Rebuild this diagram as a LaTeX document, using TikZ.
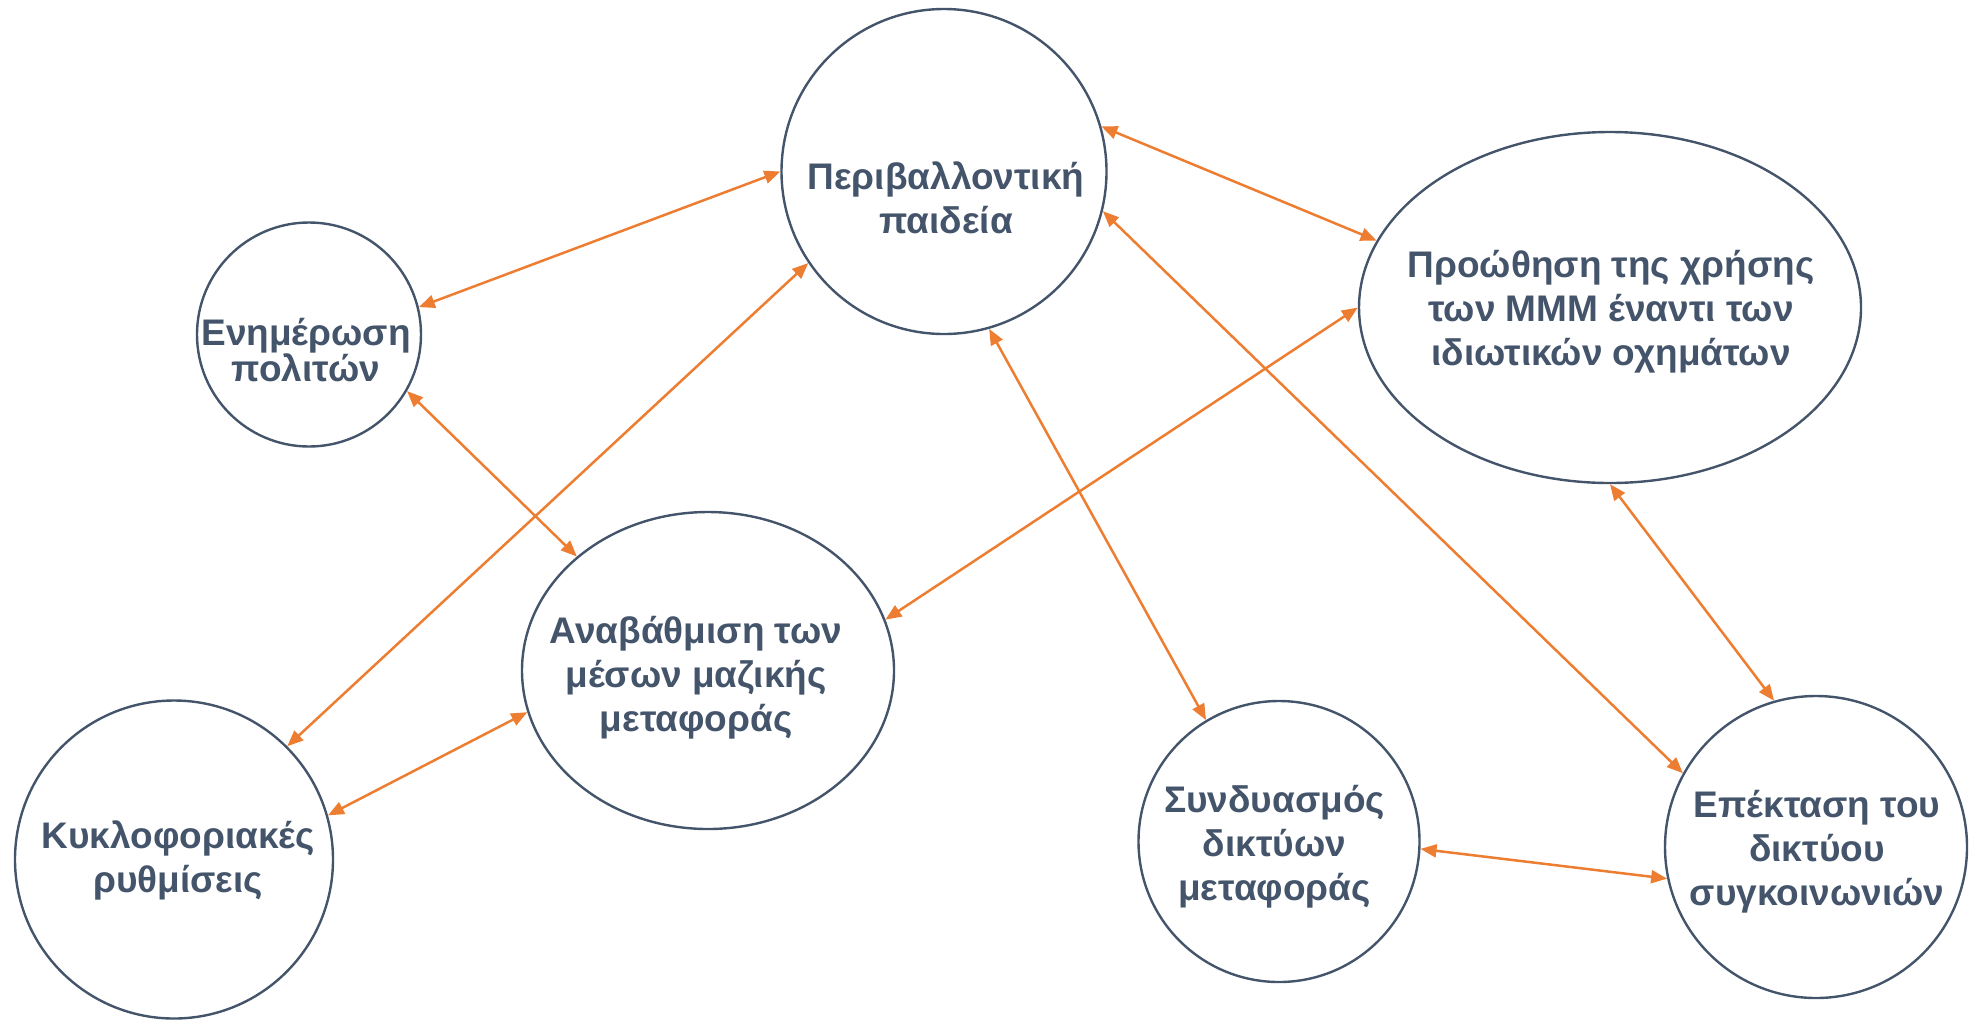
\documentclass[tikz,border=0pt]{standalone}
\usepackage{fontspec}
\setmainfont{Liberation Sans}
\usetikzlibrary{shapes.geometric,arrows.meta}
\definecolor{schiefer}{HTML}{44546A}
\definecolor{linie}{HTML}{ED7D31}
\begin{document}
\begin{tikzpicture}[x=.5pt, y=-.5pt, draw=schiefer,
	kreis/.style={circle, draw, line width=1.2pt, inner sep=0pt},
	oval/.style={ellipse, draw, line width=1.2pt, inner sep=0pt},
	txt/.style={text=schiefer, font=\bfseries\fontsize{18.5}{22}\selectfont, align=center},
	eng/.style={font=\bfseries\fontsize{18.5}{18}\selectfont},
	pfeil/.style={draw=linie, line width=1.25pt, {Triangle[length=8pt,width=6.5pt]}-{Triangle[length=8pt,width=6.5pt]}}]
	\useasboundingbox (0,0) rectangle (1969,1019);
	\node[kreis, minimum size=162.5pt]                    (peri) at (944,171.5)  {};
	\node[kreis, minimum size=112pt]                      (enim) at (309,334.5)  {};
	\node[oval, minimum width=251pt, minimum height=175.5pt] (proo) at (1610,307.5) {};
	\node[oval, minimum width=186pt, minimum height=158.5pt] (anab) at (708,670.5)  {};
	\node[kreis, minimum size=159pt]                      (kykl) at (174,859.5)  {};
	\node[kreis, minimum size=140.5pt]                    (synd) at (1279,841.5) {};
	\node[kreis, minimum size=151pt]                      (epek) at (1816,847)   {};
	\node[txt]      (periT) at (946,197.5)  {Περιβαλλοντική\\παιδεία};
	\node[txt, eng] (enimT) at (306,350)    {Ενημέρωση\\πολιτών};
	\node[txt]      (prooT) at (1611,311.5) {Προώθηση της χρήσης\\των ΜΜΜ έναντι των\\ιδιωτικών οχημάτων};
	\node[txt]      (anabT) at (696,677.5)  {Αναβάθμιση των\\μέσων μαζικής\\μεταφοράς};
	\node[txt]      (kyklT) at (178,860)    {Κυκλοφοριακές\\ρυθμίσεις};
	\node[txt]      (syndT) at (1274.5,846.5) {Συνδυασμός\\δικτύων\\μεταφοράς};
	\node[txt]      (epekT) at (1817,851.5) {Επέκταση του\\δικτύου\\συγκοινωνιών};
	%Verbindungen in Orange
	\draw[pfeil] (peri.180)   -- (enim.14);
	\draw[pfeil] (peri.214)   -- (kykl.45);
	\draw[pfeil] (peri.16)    -- (proo.164);
	\draw[pfeil] (peri.-74)   -- (synd.121);
	\draw[pfeil] (peri.-14.5) -- (epek.151);
	\draw[pfeil] (enim.-30)   -- (anab.139);
	\draw[pfeil] (proo.180)   -- (anab.16.5);
	\draw[pfeil] (kykl.16)    -- (anab.193.5);
	\draw[pfeil] (proo.-90)   -- (epek.106.5);
	\draw[pfeil] (synd.-3)    -- (epek.192);
\end{tikzpicture}
\end{document}
